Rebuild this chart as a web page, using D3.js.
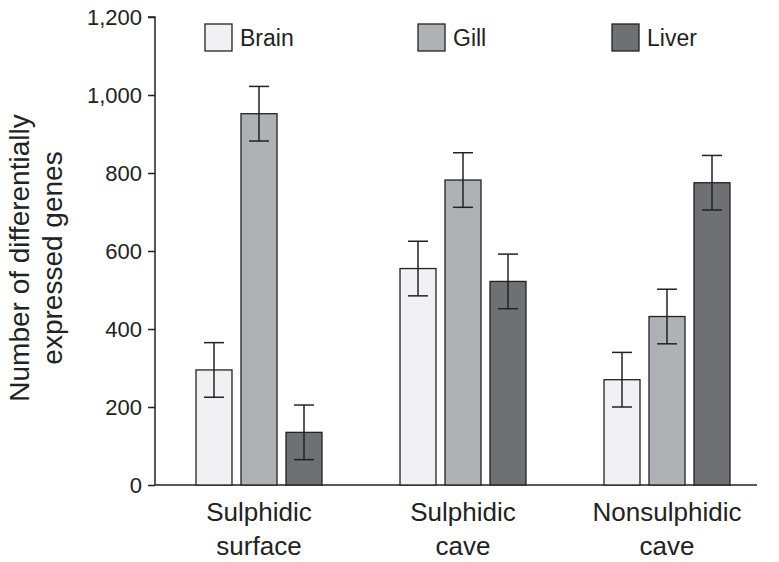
<!DOCTYPE html>
<html>
<head>
<meta charset="utf-8">
<script src="https://cdn.jsdelivr.net/npm/d3@7"></script>
<style>
  body { margin: 0; background: #fff; }
  text { font-family: "Liberation Sans", Arial, sans-serif; fill: #222; }
</style>
</head>
<body>
<svg id="chart" width="779" height="562"></svg>
<script>
// data
let sites = [["Sulphidic", "surface"], ["Sulphidic", "cave"], ["Nonsulphidic", "cave"]]
let tissues = ["Brain", "Gill", "Liver"]
let brain = [295, 555, 270]
let gill = [952, 782, 432]
let liver = [135, 522, 775]
let brainErr = [70, 70, 70]
let gillErr = [70, 70, 70]
let liverErr = [70, 70, 70]
let yTicks = [0, 200, 400, 600, 800, 1000, 1200]

let colors = {Brain: "#f1f1f3", Gill: "#b0b1b4", Liver: "#6f7073"}
let values = {Brain: brain, Gill: gill, Liver: liver}
let errs = {Brain: brainErr, Gill: gillErr, Liver: liverErr}

let svg = d3.select("#chart")
let mLeft = 155, mRight = 757, mTop = 17, mBottom = 485

let x0 = d3.scaleBand().domain(d3.range(sites.length)).range([157, 769]).paddingInner(0.0).paddingOuter(0)
let x1 = d3.scaleBand().domain(tissues).range([0, 126]).paddingInner(0.2)
let y = d3.scaleLinear().domain([0, 1200]).range([mBottom, mTop])

// y axis
let yAxis = svg.append("g")
    .attr("transform", `translate(${mLeft},0)`)
    .call(d3.axisLeft(y).tickValues(yTicks).tickSize(7).tickPadding(6).tickFormat(d3.format(",")))
yAxis.select(".domain").attr("stroke", "#222").attr("stroke-width", 1.5).attr("d", `M-7,${mTop}H0V${mBottom}`)
yAxis.selectAll(".tick line").attr("stroke", "#222").attr("stroke-width", 1.5)
yAxis.selectAll(".tick text").style("font-size", "22px").attr("fill", "#222")

// x baseline
svg.append("line")
    .attr("x1", mLeft).attr("x2", mRight)
    .attr("y1", y(0)).attr("y2", y(0))
    .attr("stroke", "#222").attr("stroke-width", 1.5)

// bars
let rows = []
sites.forEach(function (s, i) {
    tissues.forEach(function (t) {
        rows.push({site: i, tissue: t, value: values[t][i], err: errs[t][i]})
    })
})

let groups = svg.append("g")
let barX = function (d) {
    return x0(d.site) + (x0.bandwidth() - 126) / 2 + x1(d.tissue)
}

groups.selectAll("rect")
    .data(rows)
    .enter()
    .append("rect")
    .attr("x", barX)
    .attr("y", function (d) { return y(d.value) })
    .attr("width", x1.bandwidth())
    .attr("height", function (d) { return y(0) - y(d.value) })
    .attr("fill", function (d) { return colors[d.tissue] })
    .attr("stroke", "#222")
    .attr("stroke-width", 1.3)

// error bars
let eb = groups.selectAll(".err")
    .data(rows)
    .enter()
    .append("g")
    .attr("class", "err")
    .attr("stroke", "#222")
    .attr("stroke-width", 1.5)
eb.append("line")
    .attr("x1", function (d) { return barX(d) + x1.bandwidth() / 2 })
    .attr("x2", function (d) { return barX(d) + x1.bandwidth() / 2 })
    .attr("y1", function (d) { return y(d.value + d.err) })
    .attr("y2", function (d) { return y(d.value - d.err) })
eb.selectAll(".cap")
    .data(function (d) { return [d.value + d.err, d.value - d.err].map(function (v) { return {d: d, v: v} }) })
    .enter()
    .append("line")
    .attr("x1", function (c) { return barX(c.d) + x1.bandwidth() / 2 - 10 })
    .attr("x2", function (c) { return barX(c.d) + x1.bandwidth() / 2 + 10 })
    .attr("y1", function (c) { return y(c.v) })
    .attr("y2", function (c) { return y(c.v) })

// category labels
let cat = svg.append("g").selectAll("text")
    .data(sites)
    .enter()
    .append("text")
    .attr("text-anchor", "middle")
    .attr("x", function (d, i) { return x0(i) + x0.bandwidth() / 2 })
    .attr("y", 521)
    .style("font-size", "26px")
cat.append("tspan").text(function (d) { return d[0] })
cat.append("tspan")
    .attr("x", function (d, i) { return x0(i) + x0.bandwidth() / 2 })
    .attr("dy", 34)
    .text(function (d) { return d[1] })

// y label
let yl = svg.append("text")
    .attr("transform", "translate(0,258) rotate(-90)")
    .attr("text-anchor", "middle")
    .style("font-size", "28px")
yl.append("tspan").attr("x", 0).attr("y", 29).text("Number of differentially")
yl.append("tspan").attr("x", 0).attr("y", 62).text("expressed genes")

// legend
let legX = [205, 418, 612]
let leg = svg.append("g").selectAll("g")
    .data(tissues)
    .enter()
    .append("g")
    .attr("transform", function (d, i) { return `translate(${legX[i]},24)` })
leg.append("rect")
    .attr("width", 27).attr("height", 27)
    .attr("fill", function (d) { return colors[d] })
    .attr("stroke", "#222").attr("stroke-width", 1.3)
leg.append("text")
    .attr("x", 35).attr("y", 22)
    .style("font-size", "23px")
    .text(function (d) { return d })
</script>
</body>
</html>
